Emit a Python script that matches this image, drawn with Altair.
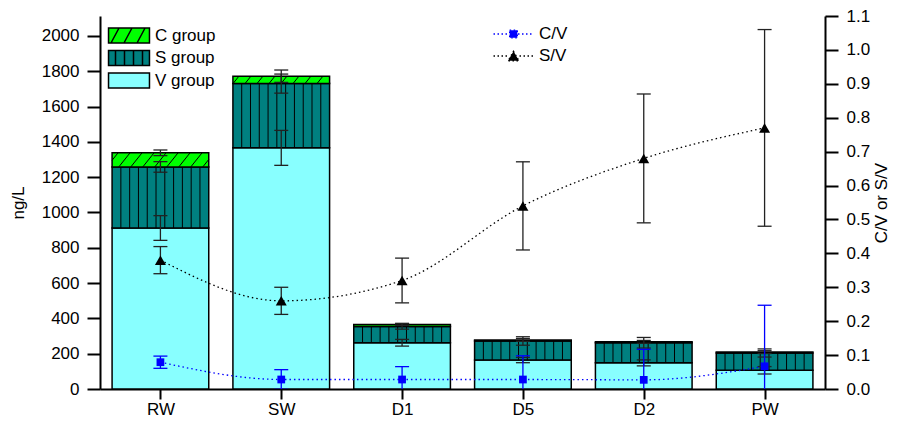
import json
import numpy as np
import pandas as pd
import altair as alt

# ---------------- data ----------------
categories = ["RW", "SW", "D1", "D5", "D2", "PW"]
v_group = [912, 1366, 262, 164, 148, 106]
s_group = [346, 364, 92, 108, 114, 98]
c_group = [80, 42, 12, 6, 5, 5]
v_err = [70, 99, 19, 15, 17, 21]
s_err = [30, 54, 15, 24, 30, 23]
c_err = [16, 35, 6, 8, 8, 8]
cv_ratio = [0.079, 0.028, 0.028, 0.028, 0.027, 0.067]
cv_err = [0.018, 0.029, 0.038, 0.070, 0.090, 0.180]
sv_ratio = [0.38, 0.26, 0.32, 0.54, 0.68, 0.77]
sv_err = [0.04, 0.04, 0.066, 0.13, 0.19, 0.29]
left_ticks = [0, 200, 400, 600, 800, 1000, 1200, 1400, 1600, 1800, 2000]
right_ticks = [0.0, 0.1, 0.2, 0.3, 0.4, 0.5, 0.6, 0.7, 0.8, 0.9, 1.0, 1.1]
group_names = ["C group", "S group", "V group"]
ratio_names = ["C/V", "S/V"]

# ---------------- styling constants ----------------
W, H = 725, 373
Y_MAX = 2113
R_MAX = 1.1
HALF = 0.4
FONT = "Liberation Sans"
FS = 17
CYAN, TEAL, GREEN, BLUE = "#88FFFF", "#008080", "#00FF00", "#0000FF"
PX_X = W / 6.0
PX_Y = H / Y_MAX
CAP = 7 / PX_X

idx = np.arange(len(categories))
v = np.array(v_group, float)
s = np.array(s_group, float)
c = np.array(c_group, float)

bars = pd.DataFrame({"xl": idx - HALF, "xr": idx + HALF, "base": 0.0,
                     "v": v, "vs": v + s, "vsc": v + s + c})

# vertical stripes of the S group
stripes = []
for i in idx:
    for k in range(1, 11):
        stripes.append({"x": i - HALF + k * 2 * HALF / 11, "y": v[i], "y2": v[i] + s[i]})
stripes = pd.DataFrame(stripes)

# diagonal hatch of the C group
hatch = []
for i in idx:
    h_px = c[i] * PX_Y
    if h_px < 5:
        continue
    y0, y1 = v[i] + s[i], v[i] + s[i] + c[i]
    dx = 0.8 * h_px / PX_X
    sp = 12 / PX_X
    xl, xr = i - HALF, i + HALF
    b = xl - dx + 0.5 * sp
    while b < xr:
        xa, ya, xb, yb = b, y0, b + dx, y1
        if xa < xl:
            t = (xl - b) / dx
            xa, ya = xl, y0 + t * (y1 - y0)
        if xb > xr:
            t = (xr - b) / dx
            xb, yb = xr, y0 + t * (y1 - y0)
        if xb > xa:
            hatch.append({"x": xa, "x2": xb, "y": ya, "y2": yb})
        b += sp
hatch = pd.DataFrame(hatch)

# error bars for stacked bars
err_rows = []
for i in idx:
    for centre, e in [(v[i], v_err[i]), (v[i] + s[i], s_err[i]), (v[i] + s[i] + c[i], c_err[i])]:
        err_rows.append({"x": float(i), "lo": centre - e, "hi": centre + e,
                         "cl": i - CAP, "cr": i + CAP})
berr = pd.DataFrame(err_rows)
bcaps = pd.concat([berr.assign(y=berr["lo"]), berr.assign(y=berr["hi"])])

ratios = pd.DataFrame({"x": idx.astype(float), "cv": cv_ratio, "sv": sv_ratio,
                       "cv_lo": np.array(cv_ratio) - np.array(cv_err),
                       "cv_hi": np.array(cv_ratio) + np.array(cv_err),
                       "sv_lo": np.array(sv_ratio) - np.array(sv_err),
                       "sv_hi": np.array(sv_ratio) + np.array(sv_err),
                       "cl": idx - CAP, "cr": idx + CAP})
cv_caps = pd.concat([ratios.assign(y=ratios["cv_lo"]), ratios.assign(y=ratios["cv_hi"])])
sv_caps = pd.concat([ratios.assign(y=ratios["sv_lo"]), ratios.assign(y=ratios["sv_hi"])])

# ---------------- scales / axes ----------------
xscale = alt.Scale(domain=[-0.5, 5.5], nice=False, zero=False)
yL = alt.Scale(domain=[0, Y_MAX], nice=False)
yR = alt.Scale(domain=[0, R_MAX], nice=False)

xaxis = alt.Axis(values=list(range(len(categories))),
                 labelExpr=f"{json.dumps(categories)}[datum.value]",
                 title=None, tickSize=10, labelPadding=2, labelOverlap=False)
yaxisL = alt.Axis(values=left_ticks, format="d", title="ng/L", titleAngle=270, titleX=-82,
                  titleY=H / 2, titleBaseline="middle", titleAlign="center",
                  labelPadding=8, labelOverlap=False)
yaxisR = alt.Axis(values=right_ticks, format=".1f", orient="right", title="C/V or S/V",
                  titleAngle=270, titleX=56, titleY=H / 2, titleBaseline="middle",
                  titleAlign="center", labelPadding=8, labelOverlap=False)


def X(f):
    return alt.X(f, type="quantitative", scale=xscale, axis=xaxis)


v_rect = alt.Chart(bars).mark_rect(fill=CYAN, stroke="black", strokeWidth=1.5).encode(
    x=X("xl"), x2="xr:Q",
    y=alt.Y("base:Q", scale=yL, axis=yaxisL), y2="v:Q")
s_rect = alt.Chart(bars).mark_rect(fill=TEAL, stroke="black", strokeWidth=1.5).encode(
    x=X("xl"), x2="xr:Q", y=alt.Y("v:Q", scale=yL, axis=yaxisL), y2="vs:Q")
s_lines = alt.Chart(stripes).mark_rule(color="black", strokeWidth=1).encode(
    x=X("x"), y=alt.Y("y:Q", scale=yL, axis=yaxisL), y2="y2:Q")
c_rect = alt.Chart(bars).mark_rect(fill=GREEN, stroke="black", strokeWidth=1.5).encode(
    x=X("xl"), x2="xr:Q", y=alt.Y("vs:Q", scale=yL, axis=yaxisL), y2="vsc:Q")
c_lines = alt.Chart(hatch).mark_rule(color="black", strokeWidth=1).encode(
    x=X("x"), x2="x2:Q", y=alt.Y("y:Q", scale=yL, axis=yaxisL), y2="y2:Q")
b_err = alt.Chart(berr).mark_rule(color="#222222", strokeWidth=1.3).encode(
    x=X("x"), y=alt.Y("lo:Q", scale=yL, axis=yaxisL), y2="hi:Q")
b_cap = alt.Chart(bcaps).mark_rule(color="#222222", strokeWidth=1.3).encode(
    x=X("cl"), x2="cr:Q", y=alt.Y("y:Q", scale=yL, axis=yaxisL))

legend_common = dict(orient="none", title=None, padding=0, labelFont=FONT,
                     labelFontSize=FS, labelColor="black", symbolOpacity=1)
glegend = alt.Legend(legendX=20.5, legendY=11, symbolSize=225, labelOffset=17.5,
                     rowPadding=1.5, symbolStrokeWidth=1.5, **legend_common)
rect_p = "M-2.73,-1H2.73V1H-2.73Z"
group_paths = [
    rect_p + "M-2.4,1L-1.33,-1M-0.67,1L0.4,-1M1.07,1L2.14,-1",
    rect_p + "M-1.8,-1V1M-0.6,-1V1M0.6,-1V1M1.8,-1V1",
    rect_p,
]
g_leg = alt.Chart(pd.DataFrame({"group": group_names})).mark_point(
    filled=True, opacity=0).encode(
    x=alt.X(datum=0, scale=xscale, axis=xaxis), y=alt.Y(datum=0, scale=yL, axis=yaxisL),
    fill=alt.Fill("group:N", scale=alt.Scale(domain=group_names, range=[GREEN, TEAL, CYAN]),
                  legend=glegend),
    stroke=alt.Stroke("group:N", scale=alt.Scale(domain=group_names,
                                                 range=["black", "black", "black"]),
                      legend=glegend),
    shape=alt.Shape("group:N", scale=alt.Scale(domain=group_names, range=group_paths),
                    legend=glegend))

left = alt.layer(v_rect, s_rect, s_lines, c_rect, c_lines, b_err, b_cap, g_leg)

# ---------------- right axis: ratios ----------------
cv_line = alt.Chart(ratios).mark_line(color=BLUE, strokeDash=[1.5, 3], strokeWidth=1.3,
                                      interpolate="monotone").encode(
    x=X("x"), y=alt.Y("cv:Q", scale=yR, axis=yaxisR))
sv_line = alt.Chart(ratios).mark_line(color="black", strokeDash=[1.5, 3], strokeWidth=1.3,
                                      interpolate="monotone").encode(
    x=X("x"), y=alt.Y("sv:Q", scale=yR, axis=yaxisR))
cv_e = alt.Chart(ratios).mark_rule(color=BLUE, strokeWidth=1.3, clip=True).encode(
    x=X("x"), y=alt.Y("cv_lo:Q", scale=yR, axis=yaxisR), y2="cv_hi:Q")
cv_c = alt.Chart(cv_caps).mark_rule(color=BLUE, strokeWidth=1.3, clip=True).encode(
    x=X("cl"), x2="cr:Q", y=alt.Y("y:Q", scale=yR, axis=yaxisR))
sv_e = alt.Chart(ratios).mark_rule(color="#222222", strokeWidth=1.3, clip=True).encode(
    x=X("x"), y=alt.Y("sv_lo:Q", scale=yR, axis=yaxisR), y2="sv_hi:Q")
sv_c = alt.Chart(sv_caps).mark_rule(color="#222222", strokeWidth=1.3, clip=True).encode(
    x=X("cl"), x2="cr:Q", y=alt.Y("y:Q", scale=yR, axis=yaxisR))
cv_pt = alt.Chart(ratios).mark_point(shape="square", filled=True, size=60, color=BLUE,
                                     opacity=1).encode(
    x=X("x"), y=alt.Y("cv:Q", scale=yR, axis=yaxisR))
sv_pt = alt.Chart(ratios).mark_point(shape="triangle-up", filled=True, size=121,
                                     color="black", opacity=1).encode(
    x=X("x"), y=alt.Y("sv:Q", scale=yR, axis=yaxisR))

rlegend = alt.Legend(legendX=405, legendY=9.5, symbolSize=100, labelOffset=17,
                     rowPadding=4, symbolDash=[1.5, 2.5], symbolStrokeWidth=1.3,
                     **legend_common)
ratio_paths = [
    "M-4,0H-0.9M0.9,0H4M-0.77,-0.77H0.77V0.77H-0.77Z",
    "M-4,0H-1.2M1.2,0H4M0,-0.95L1.1,0.95L-1.1,0.95Z",
]
r_leg = alt.Chart(pd.DataFrame({"ratio": ratio_names})).mark_point(
    filled=True, opacity=0).encode(
    x=alt.X(datum=0, scale=xscale, axis=xaxis), y=alt.Y(datum=0, scale=yR, axis=yaxisR),
    fill=alt.Fill("ratio:N", scale=alt.Scale(domain=ratio_names, range=[BLUE, "black"]),
                  legend=rlegend),
    stroke=alt.Stroke("ratio:N", scale=alt.Scale(domain=ratio_names, range=[BLUE, "black"]),
                      legend=rlegend),
    shape=alt.Shape("ratio:N", scale=alt.Scale(domain=ratio_names, range=ratio_paths),
                    legend=rlegend))

right = alt.layer(cv_line, sv_line, cv_e, cv_c, sv_e, sv_c, cv_pt, sv_pt, r_leg)

chart = alt.layer(left, right).resolve_scale(
    y="independent", fill="independent", shape="independent", stroke="independent"
).properties(
    width=W, height=H,
    autosize=alt.AutoSizeParams(type="none"),
    padding={"left": 92, "top": 8, "right": 65, "bottom": 31},
    background="white",
).configure_view(strokeWidth=0).configure_axis(
    grid=False, domainColor="black", domainWidth=2, tickColor="black", tickWidth=2,
    tickSize=13, labelFont=FONT, labelFontSize=FS, labelColor="black",
    titleFont=FONT, titleFontSize=FS, titleFontWeight="normal", titleColor="black",
)

chart.save("out.html", embed_options={"renderer": "svg", "actions": False})
